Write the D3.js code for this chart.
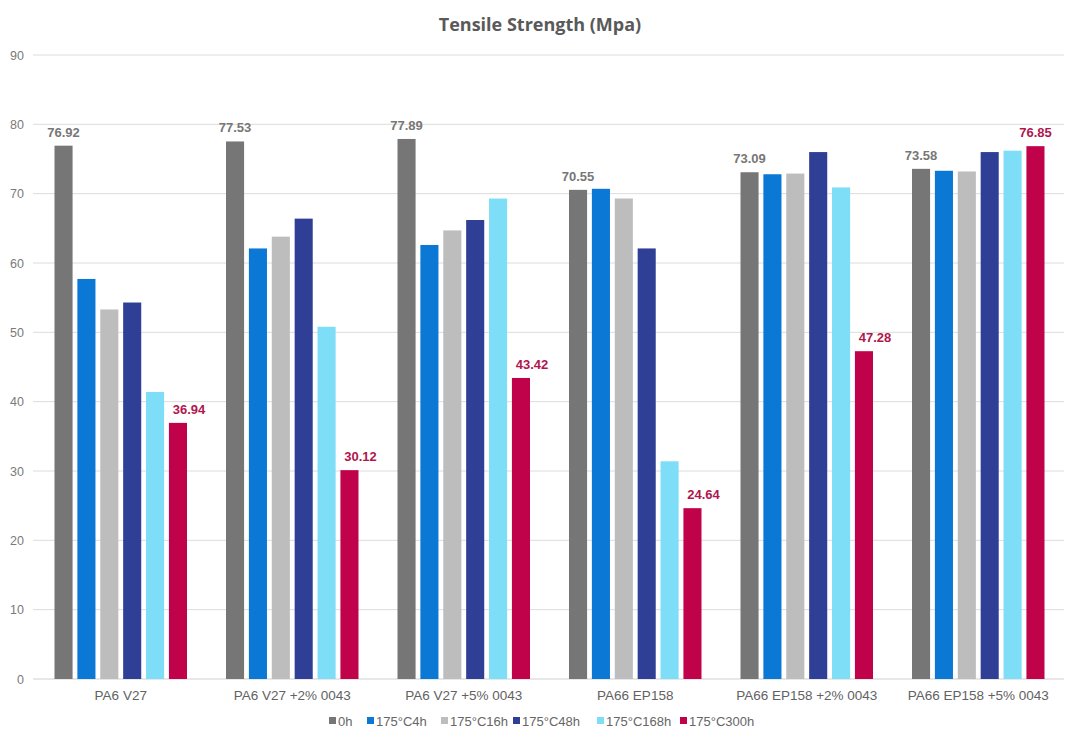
<!DOCTYPE html>
<html>
<head>
<meta charset="utf-8">
<script src="https://cdn.jsdelivr.net/npm/d3@7"></script>
<style>
  html, body { margin: 0; padding: 0; background: #fff; }
  svg { display: block; }
</style>
</head>
<body>
<svg id="chart" width="1080" height="743"></svg>
<script>
const title = "Tensile Strength (Mpa)";
const categories = ["PA6 V27", "PA6 V27 +2% 0043", "PA6 V27 +5% 0043", "PA66 EP158", "PA66 EP158 +2% 0043", "PA66 EP158 +5% 0043"];
const seriesNames = ["0h", "175°C4h", "175°C16h", "175°C48h", "175°C168h", "175°C300h"];
const s0h   = [76.92, 77.53, 77.89, 70.55, 73.09, 73.58];
const s4h   = [57.7, 62.1, 62.6, 70.7, 72.8, 73.3];
const s16h  = [53.3, 63.8, 64.7, 69.3, 72.9, 73.2];
const s48h  = [54.3, 66.4, 66.2, 62.1, 76.0, 76.0];
const s168h = [41.4, 50.8, 69.3, 31.4, 70.9, 76.2];
const s300h = [36.94, 30.12, 43.42, 24.64, 47.28, 76.85];
const yTicks = [0, 10, 20, 30, 40, 50, 60, 70, 80, 90];
const colors = ["#767676", "#0A78D4", "#BDBDBD", "#2F3F96", "#7EDDF7", "#C0024A"];

const series = [s0h, s4h, s16h, s48h, s168h, s300h];
const svg = d3.select("#chart");
const font = "'Liberation Sans', Arial, sans-serif";

const x0 = d3.scaleBand().domain(categories).range([35, 1064]).padding(0);
const x1 = d3.scaleBand().domain(seriesNames).range([19.5, 152]).paddingInner(0.21).paddingOuter(0);
const y = d3.scaleLinear().domain([0, 90]).range([679, 55]);

// gridlines
svg.append("g").selectAll("line").data(yTicks).join("line")
  .attr("x1", 33).attr("x2", 1064)
  .attr("y1", d => y(d)).attr("y2", d => y(d))
  .attr("stroke", d => d === 0 ? "#cfcfcf" : "#dcdcdc").attr("stroke-width", 1);

// y axis labels
const yAxis = d3.axisLeft(y).tickValues(yTicks).tickSize(0).tickPadding(0);
const ya = svg.append("g").attr("transform", "translate(24,0)").call(yAxis);
ya.select(".domain").remove();
ya.selectAll("text").attr("font-family", font).attr("font-size", 12.5).attr("fill", "#7a7a7a");

// bars
const groups = svg.append("g").selectAll("g").data(categories).join("g")
  .attr("transform", d => `translate(${x0(d)},0)`);
groups.selectAll("rect").data((c, ci) => seriesNames.map((s, si) => ({s, si, v: series[si][ci]})))
  .join("rect")
  .attr("x", d => x1(d.s)).attr("width", x1.bandwidth())
  .attr("y", d => y(d.v)).attr("height", d => y(0) - y(d.v))
  .attr("fill", d => colors[d.si]);

// value labels (0h and 300h)
groups.append("text")
  .attr("x", (c) => x1(seriesNames[0]) + x1.bandwidth() / 2)
  .attr("y", (c, ci) => y(s0h[ci]) - 9)
  .attr("text-anchor", "middle")
  .attr("font-family", font).attr("font-weight", "bold").attr("font-size", 13)
  .attr("fill", "#777777")
  .text((c, ci) => s0h[ci].toFixed(2));
groups.append("text")
  .attr("x", (c, ci) => x1(seriesNames[5]) + x1.bandwidth() / 2 + (ci < 5 ? 11 : 0))
  .attr("y", (c, ci) => y(s300h[ci]) - 9)
  .attr("text-anchor", "middle")
  .attr("font-family", font).attr("font-weight", "bold").attr("font-size", 13)
  .attr("fill", "#B0164E")
  .text((c, ci) => s300h[ci].toFixed(2));

// x axis labels
const xAxis = d3.axisBottom(x0).tickSize(0).tickPadding(0);
const xa = svg.append("g").attr("transform", "translate(0,690)").call(xAxis);
xa.select(".domain").remove();
xa.selectAll("text").attr("font-family", font).attr("font-size", 13.5).attr("fill", "#626262");

// title
svg.append("text").attr("x", 540).attr("y", 31).attr("text-anchor", "middle")
  .attr("font-family", "'Open Sans', 'DejaVu Sans', sans-serif").attr("font-weight", "bold")
  .attr("font-size", 18).attr("fill", "#595959").text(title);

// legend
const legendX = [329, 367, 441, 513, 597, 680];
const lg = svg.append("g").selectAll("g").data(seriesNames).join("g")
  .attr("transform", (d, i) => `translate(${legendX[i]},721)`);
lg.append("rect").attr("x", 0).attr("y", -4).attr("width", 7).attr("height", 7)
  .attr("fill", (d, i) => colors[i]);
lg.append("text").attr("x", 9).attr("y", 0).attr("dy", "0.35em")
  .attr("font-family", font).attr("font-size", 13).attr("fill", "#666")
  .text(d => d);
</script>
</body>
</html>
